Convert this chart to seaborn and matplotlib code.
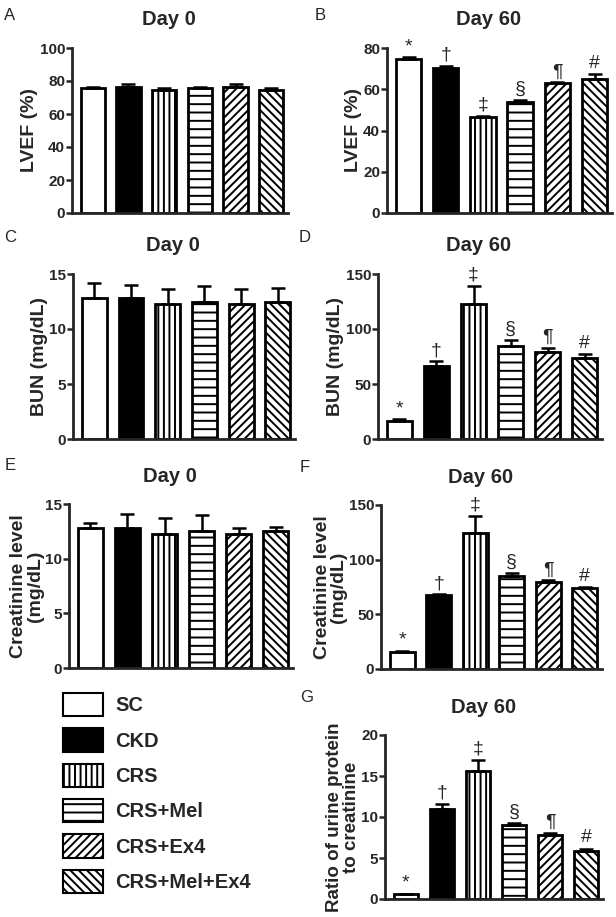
import numpy as np
import pandas as pd
import matplotlib
matplotlib.use("Agg")
import matplotlib.pyplot as plt
from matplotlib.patches import Patch
import seaborn as sns

sns.set_style("ticks")
plt.rcParams['font.family'] = ['Liberation Sans', 'DejaVu Sans']
plt.rcParams['hatch.linewidth'] = 1.4

groups = ['SC', 'CKD', 'CRS', 'CRS+Mel', 'CRS+Ex4', 'CRS+Mel+Ex4']
faces = ['white', 'black', 'white', 'white', 'white', 'white']
hatches = ['', '', '|||', '--', '////', '\\\\\\\\']
marks = ['*', '†', '‡', '§', '¶', '#']

# values (mean, upper error)
lvef_d0 = [75.5, 76.5, 74.5, 75.5, 76.5, 74.5]
lvef_d0_err = [1.0, 1.5, 1.5, 1.0, 1.5, 1.0]
lvef_d60 = [74.5, 70.5, 46.5, 54.0, 63.0, 64.8]
lvef_d60_err = [1.0, 1.0, 0.5, 1.0, 0.3, 2.5]
bun_d0 = [12.8, 12.8, 12.3, 12.5, 12.3, 12.5]
bun_d0_err = [1.35, 1.2, 1.3, 1.45, 1.3, 1.2]
bun_d60 = [16.6, 66.5, 123.0, 84.7, 79.2, 73.5]
bun_d60_err = [1.4, 4.0, 16.4, 5.3, 3.3, 3.9]
cre_d0 = [12.8, 12.8, 12.3, 12.5, 12.3, 12.5]
cre_d0_err = [0.5, 1.3, 1.4, 1.5, 0.5, 0.4]
cre_d60 = [16.0, 67.5, 124.5, 85.5, 80.0, 73.8]
cre_d60_err = [0.8, 0.8, 15.5, 2.5, 1.0, 1.2]
upcr_d60 = [0.55, 11.0, 15.6, 9.0, 7.8, 5.9]
upcr_d60_err = [0.1, 0.6, 1.35, 0.3, 0.25, 0.25]

fig = plt.figure(figsize=(6.16, 9.17), dpi=100)
W, H = 616, 917


def px_axes(l, t, r, b):
    return fig.add_axes([l / W, 1 - b / H, (r - l) / W, (b - t) / H])


def panel(ax, vals, errs, ymax, step, ylabel, title, annotate, lsize=14):
    df = pd.DataFrame({'group': groups, 'value': vals})
    sns.barplot(data=df, x='group', y='value', order=groups, ax=ax, width=0.68,
                color='white', edgecolor='black', linewidth=2, errorbar=None)
    for p, fc, h in zip(ax.patches, faces, hatches):
        p.set_facecolor(fc)
        p.set_hatch(h)
        p.set_edgecolor('black')
    x = np.arange(len(groups))
    ax.errorbar(x, vals, yerr=[np.zeros(len(vals)), errs], fmt='none',
                ecolor='black', elinewidth=1.8, capsize=5, capthick=1.8, zorder=1)
    if annotate:
        for xi, v, e, m in zip(x, vals, errs, marks):
            ax.annotate(m, (xi, v + e), xytext=(0, 1.5), textcoords='offset points',
                        ha='center', va='bottom', fontsize=14)
    ax.set_ylim(0, ymax)
    ax.set_xlim(-0.58, 5.47)
    ax.set_yticks(np.arange(0, ymax + step / 2, step))
    ax.set_xticks([])
    ax.set_xlabel('')
    ax.set_ylabel(ylabel, fontsize=lsize, fontweight='bold', linespacing=0.95, labelpad=1)
    for lab in ax.get_yticklabels():
        lab.set_fontweight('bold')
    ax.tick_params(axis='y', labelsize=11, width=1.8, length=4, pad=1)
    for s in ['left', 'bottom']:
        ax.spines[s].set_linewidth(2)
    sns.despine(ax=ax)
    ax.text(0.45, 1.17, title, transform=ax.transAxes, ha='center', va='center',
            fontsize=14.5, fontweight='bold')
    return ax


panel(px_axes(72, 48, 288, 213), lvef_d0, lvef_d0_err, 100, 20, 'LVEF (%)', 'Day 0', False)
panel(px_axes(387, 48, 612, 213), lvef_d60, lvef_d60_err, 80, 20, 'LVEF (%)', 'Day 60', True)
panel(px_axes(73, 274, 295, 439), bun_d0, bun_d0_err, 15, 5, 'BUN (mg/dL)', 'Day 0', False)
panel(px_axes(378, 274, 602, 439), bun_d60, bun_d60_err, 150, 50, 'BUN (mg/dL)', 'Day 60', True)
panel(px_axes(69, 504, 293, 668), cre_d0, cre_d0_err, 15, 5, 'Creatinine level\n(mg/dL)', 'Day 0', False)
panel(px_axes(381, 505, 602, 669), cre_d60, cre_d60_err, 150, 50, 'Creatinine level\n(mg/dL)', 'Day 60', True)
panel(px_axes(385, 735, 603, 899), upcr_d60, upcr_d60_err, 20, 5, 'Ratio of urine protein\nto creatinine', 'Day 60', True, 13.5)

for letter, (lx, ly) in zip('ABCDEFG', [(10, 15), (320, 15), (10, 237), (305, 237),
                                        (10, 465), (305, 467), (307, 697)]):
    fig.text(lx / W, 1 - ly / H, letter, fontsize=12, ha='center', va='center')

handles = [Patch(facecolor=fc, edgecolor='black', hatch=h, linewidth=1.5)
           for fc, h in zip(faces, hatches)]
fig.legend(handles, groups, loc='upper left', bbox_to_anchor=(63 / W, 1 - 693 / H),
           frameon=False, borderpad=0, borderaxespad=0, handlelength=2.0,
           handleheight=1.4, labelspacing=0.6, handletextpad=0.6,
           prop={'size': 14.5, 'weight': 'bold'})

fig.savefig('out.png', dpi=100)
